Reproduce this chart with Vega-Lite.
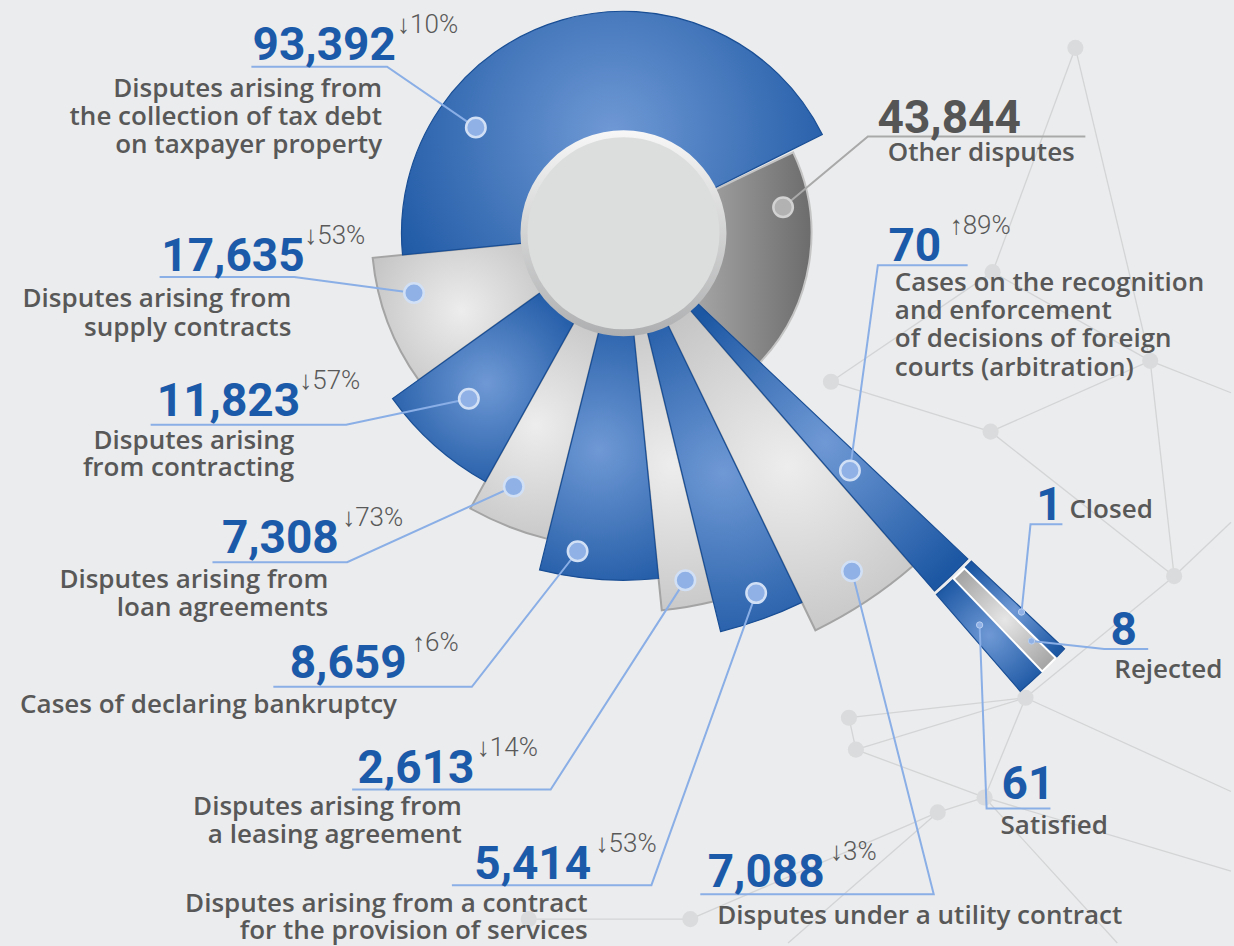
{
 "$schema": "https://vega.github.io/schema/vega-lite/v6.json",
 "width": 1234, "height": 946,
 "autosize": {"type": "fit", "contains": "padding"},
 "padding": 0,
 "background": "#ebeced",
 "config": {"view": {"stroke": null}},
 "datasets": {
  "segs": [
   {"id": "tax", "kind": "blue", "a0": 264.4, "a1": 423.6, "r0": 90, "r1": 222},
   {"id": "other", "kind": "dark", "a0": 64.5, "a1": 133.6, "r0": 90, "r1": 188},
   {"id": "supply", "kind": "light", "a0": 234.4, "a1": 264.4, "r0": 90, "r1": 252},
   {"id": "contracting", "kind": "blue", "a0": 209.1, "a1": 234.4, "r0": 90, "r1": 284},
   {"id": "loan", "kind": "light", "a0": 194, "a1": 209.1, "r0": 90, "r1": 315},
   {"id": "bankruptcy", "kind": "blue", "a0": 174.2, "a1": 194, "r0": 90, "r1": 347},
   {"id": "leasing", "kind": "light", "a0": 166.3, "a1": 174.2, "r0": 90, "r1": 379},
   {"id": "services", "kind": "blue", "a0": 154.2, "a1": 166.3, "r0": 90, "r1": 410},
   {"id": "utility", "kind": "light", "a0": 139, "a1": 154.2, "r0": 90, "r1": 441},
   {"id": "foreign", "kind": "blue", "a0": 133.4, "a1": 139, "r0": 90, "r1": 474},
   {"id": "satisfied", "kind": "blue", "a0": 136.3, "a1": 139.1, "r0": 478, "r1": 606},
   {"id": "rejected", "kind": "ring", "a0": 134.5, "a1": 136.3, "r0": 478, "r1": 606},
   {"id": "closed", "kind": "blue", "a0": 133.3, "a1": 134.5, "r0": 478, "r1": 606},
   {"id": "hubrim", "kind": "rim", "a0": 0, "a1": 360, "r0": 0, "r1": 103},
   {"id": "hub", "kind": "hub", "a0": 0, "a1": 360, "r0": 0, "r1": 96}
  ],
  "net": [
   {"e": 1, "o": 0, "x": 453, "y": 186}, {"e": 1, "o": 1, "x": 370, "y": -39},
   {"e": 2, "o": 0, "x": 453, "y": 186}, {"e": 2, "o": 1, "x": 528, "y": -128},
   {"e": 3, "o": 0, "x": 370, "y": -39}, {"e": 3, "o": 1, "x": 208, "y": -149},
   {"e": 4, "o": 0, "x": 370, "y": -39}, {"e": 4, "o": 1, "x": 528, "y": -128},
   {"e": 5, "o": 0, "x": 528, "y": -128}, {"e": 5, "o": 1, "x": 609, "y": -160},
   {"e": 6, "o": 0, "x": 528, "y": -128}, {"e": 6, "o": 1, "x": 552, "y": -344},
   {"e": 7, "o": 0, "x": 208, "y": -149}, {"e": 7, "o": 1, "x": 368, "y": -199},
   {"e": 8, "o": 0, "x": 368, "y": -199}, {"e": 8, "o": 1, "x": 528, "y": -128},
   {"e": 9, "o": 0, "x": 368, "y": -199}, {"e": 9, "o": 1, "x": 552, "y": -344},
   {"e": 10, "o": 0, "x": 552, "y": -344}, {"e": 10, "o": 1, "x": 609, "y": -290},
   {"e": 11, "o": 0, "x": 552, "y": -344}, {"e": 11, "o": 1, "x": 403, "y": -466},
   {"e": 12, "o": 0, "x": 403, "y": -466}, {"e": 12, "o": 1, "x": 226, "y": -486},
   {"e": 13, "o": 0, "x": 403, "y": -466}, {"e": 13, "o": 1, "x": 233, "y": -518},
   {"e": 14, "o": 0, "x": 403, "y": -466}, {"e": 14, "o": 1, "x": 609, "y": -560},
   {"e": 15, "o": 0, "x": 226, "y": -486}, {"e": 15, "o": 1, "x": 233, "y": -518},
   {"e": 16, "o": 0, "x": 233, "y": -518}, {"e": 16, "o": 1, "x": 362, "y": -566},
   {"e": 17, "o": 0, "x": 315, "y": -581}, {"e": 17, "o": 1, "x": 362, "y": -566},
   {"e": 18, "o": 0, "x": 315, "y": -581}, {"e": 18, "o": 1, "x": 67, "y": -688},
   {"e": 19, "o": 0, "x": 362, "y": -566}, {"e": 19, "o": 1, "x": 609, "y": -640},
   {"e": 20, "o": 0, "x": 362, "y": -566}, {"e": 20, "o": 1, "x": 403, "y": -466},
   {"e": 21, "o": 0, "x": 67, "y": -688}, {"e": 21, "o": 1, "x": -95, "y": -688},
   {"e": 22, "o": 0, "x": 362, "y": -566}, {"e": 22, "o": 1, "x": 495, "y": -712},
   {"e": 23, "o": 0, "x": 315, "y": -581}, {"e": 23, "o": 1, "x": 165, "y": -712}
  ],
  "nodes": [
   {"x": 453, "y": 186}, {"x": 370, "y": -39}, {"x": 528, "y": -128}, {"x": 208, "y": -149},
   {"x": 368, "y": -199}, {"x": 552, "y": -344}, {"x": 403, "y": -466}, {"x": 226, "y": -486},
   {"x": 233, "y": -518}, {"x": 315, "y": -581}, {"x": 362, "y": -566}, {"x": 67, "y": -688},
   {"x": -95, "y": -688}
  ],
  "leaders": [
   {"id": "tax", "kind": "blue", "o": 0, "x": -373, "y": 167}, {"id": "tax", "kind": "blue", "o": 1, "x": -237, "y": 167}, {"id": "tax", "kind": "blue", "o": 2, "x": -148, "y": 106},
   {"id": "supply", "kind": "blue", "o": 0, "x": -465, "y": -44}, {"id": "supply", "kind": "blue", "o": 1, "x": -330, "y": -44}, {"id": "supply", "kind": "blue", "o": 2, "x": -210, "y": -60},
   {"id": "contracting", "kind": "blue", "o": 0, "x": -474, "y": -192}, {"id": "contracting", "kind": "blue", "o": 1, "x": -278, "y": -192}, {"id": "contracting", "kind": "blue", "o": 2, "x": -155, "y": -166},
   {"id": "loan", "kind": "blue", "o": 0, "x": -412, "y": -330}, {"id": "loan", "kind": "blue", "o": 1, "x": -277, "y": -330}, {"id": "loan", "kind": "blue", "o": 2, "x": -110, "y": -254},
   {"id": "bankruptcy", "kind": "blue", "o": 0, "x": -351, "y": -455}, {"id": "bankruptcy", "kind": "blue", "o": 1, "x": -152, "y": -455}, {"id": "bankruptcy", "kind": "blue", "o": 2, "x": -46, "y": -319},
   {"id": "leasing", "kind": "blue", "o": 0, "x": -272, "y": -558}, {"id": "leasing", "kind": "blue", "o": 1, "x": -73, "y": -558}, {"id": "leasing", "kind": "blue", "o": 2, "x": 62, "y": -348},
   {"id": "services", "kind": "blue", "o": 0, "x": -172, "y": -654}, {"id": "services", "kind": "blue", "o": 1, "x": 28, "y": -654}, {"id": "services", "kind": "blue", "o": 2, "x": 133, "y": -361},
   {"id": "utility", "kind": "blue", "o": 0, "x": 77, "y": -663}, {"id": "utility", "kind": "blue", "o": 1, "x": 311, "y": -663}, {"id": "utility", "kind": "blue", "o": 2, "x": 229, "y": -339},
   {"id": "foreign", "kind": "blue", "o": 0, "x": 345, "y": -32}, {"id": "foreign", "kind": "blue", "o": 1, "x": 255, "y": -32}, {"id": "foreign", "kind": "blue", "o": 2, "x": 227, "y": -238},
   {"id": "other", "kind": "gray", "o": 0, "x": 463, "y": 97}, {"id": "other", "kind": "gray", "o": 1, "x": 245, "y": 97}, {"id": "other", "kind": "gray", "o": 2, "x": 160, "y": 26},
   {"id": "closed", "kind": "blue", "o": 0, "x": 440, "y": -292}, {"id": "closed", "kind": "blue", "o": 1, "x": 408, "y": -292}, {"id": "closed", "kind": "blue", "o": 2, "x": 399, "y": -380},
   {"id": "rejected", "kind": "blue", "o": 0, "x": 526, "y": -417}, {"id": "rejected", "kind": "blue", "o": 1, "x": 482, "y": -417}, {"id": "rejected", "kind": "blue", "o": 2, "x": 409, "y": -409},
   {"id": "satisfied", "kind": "blue", "o": 0, "x": 428, "y": -577}, {"id": "satisfied", "kind": "blue", "o": 1, "x": 364, "y": -577}, {"id": "satisfied", "kind": "blue", "o": 2, "x": 357, "y": -393}
  ],
  "dots": [
   {"id": "tax", "kind": "big", "x": -148, "y": 106},
   {"id": "supply", "kind": "big", "x": -210, "y": -60},
   {"id": "contracting", "kind": "big", "x": -155, "y": -166},
   {"id": "loan", "kind": "big", "x": -110, "y": -254},
   {"id": "bankruptcy", "kind": "big", "x": -46, "y": -319},
   {"id": "leasing", "kind": "big", "x": 62, "y": -348},
   {"id": "services", "kind": "big", "x": 133, "y": -361},
   {"id": "utility", "kind": "big", "x": 229, "y": -339},
   {"id": "foreign", "kind": "big", "x": 227, "y": -238},
   {"id": "other", "kind": "gray", "x": 160, "y": 26},
   {"id": "closed", "kind": "small", "x": 399, "y": -380},
   {"id": "rejected", "kind": "small", "x": 409, "y": -409},
   {"id": "satisfied", "kind": "small", "x": 357, "y": -393}
  ],
  "nums": [
   {"t": "93,392", "col": "blue", "x": -300, "y": 174},
   {"t": "17,635", "col": "blue", "x": -391.5, "y": -38},
   {"t": "11,823", "col": "blue", "x": -396, "y": -183},
   {"t": "7,308", "col": "blue", "x": -344, "y": -321},
   {"t": "8,659", "col": "blue", "x": -276, "y": -446},
   {"t": "2,613", "col": "blue", "x": -208, "y": -551},
   {"t": "5,414", "col": "blue", "x": -91, "y": -648},
   {"t": "7,088", "col": "blue", "x": 143, "y": -656},
   {"t": "43,844", "col": "gray", "x": 326.5, "y": 101},
   {"t": "70", "col": "blue", "x": 292, "y": -28},
   {"t": "1", "col": "blue", "x": 427, "y": -288},
   {"t": "8", "col": "blue", "x": 501.5, "y": -413},
   {"t": "61", "col": "blue", "x": 405.5, "y": -568}
  ],
  "pcts": [
   {"t": "↓10%", "x": -227, "y": 201},
   {"t": "↓53%", "x": -320, "y": -11},
   {"t": "↓57%", "x": -325, "y": -156},
   {"t": "↓73%", "x": -282, "y": -294},
   {"t": "↑6%", "x": -212, "y": -419},
   {"t": "↓14%", "x": -147, "y": -524},
   {"t": "↓53%", "x": -28, "y": -621},
   {"t": "↓3%", "x": 207, "y": -629},
   {"t": "↑89%", "x": 327, "y": -1}
  ],
  "descs": [
   {"t": "Disputes arising from", "al": "r", "x": -242, "y": 137},
   {"t": "the collection of tax debt", "al": "r", "x": -242, "y": 109},
   {"t": "on taxpayer property", "al": "r", "x": -242, "y": 81},
   {"t": "Disputes arising from", "al": "r", "x": -333, "y": -74},
   {"t": "supply contracts", "al": "r", "x": -333, "y": -103},
   {"t": "Disputes arising", "al": "r", "x": -330, "y": -216},
   {"t": "from contracting", "al": "r", "x": -330, "y": -244},
   {"t": "Disputes arising from", "al": "r", "x": -296, "y": -356},
   {"t": "loan agreements", "al": "r", "x": -296, "y": -384},
   {"t": "Cases of declaring bankruptcy", "al": "r", "x": -227, "y": -481},
   {"t": "Disputes arising from", "al": "r", "x": -162, "y": -584},
   {"t": "a leasing agreement", "al": "r", "x": -162, "y": -612},
   {"t": "Disputes arising from a contract", "al": "r", "x": -36, "y": -681},
   {"t": "for the provision of services", "al": "r", "x": -36, "y": -708},
   {"t": "Disputes under a utility contract", "al": "l", "x": 94, "y": -693},
   {"t": "Other disputes", "al": "l", "x": 265, "y": 72},
   {"t": "Cases on the recognition", "al": "l", "x": 272, "y": -58},
   {"t": "and enforcement", "al": "l", "x": 272, "y": -86},
   {"t": "of decisions of foreign", "al": "l", "x": 272, "y": -114},
   {"t": "courts (arbitration)", "al": "l", "x": 272, "y": -143},
   {"t": "Closed", "al": "l", "x": 447, "y": -286},
   {"t": "Rejected", "al": "l", "x": 492, "y": -446},
   {"t": "Satisfied", "al": "l", "x": 378, "y": -603}
  ]
 },
 "layer": [
  {
   "data": {"name": "net"},
   "mark": {"type": "line", "stroke": "#d3d4d5", "strokeWidth": 1.3},
   "encoding": {
    "x": {"field": "x", "type": "quantitative", "scale": {"domain": [-625, 609], "nice": false, "zero": false}, "axis": null},
    "y": {"field": "y", "type": "quantitative", "scale": {"domain": [-712, 234], "nice": false, "zero": false}, "axis": null},
    "detail": {"field": "e"},
    "order": {"field": "o"}
   }
  },
  {
   "data": {"name": "nodes"},
   "mark": {"type": "point", "shape": "circle", "filled": true, "fill": "#dadbdc", "opacity": 1, "size": 260},
   "encoding": {
    "x": {"field": "x", "type": "quantitative", "scale": {"domain": [-625, 609], "nice": false, "zero": false}, "axis": null},
    "y": {"field": "y", "type": "quantitative", "scale": {"domain": [-712, 234], "nice": false, "zero": false}, "axis": null}
   }
  },
  {
   "data": {"name": "segs"},
   "transform": [{"filter": "datum.kind === 'dark'"}],
   "mark": {"type": "arc", "stroke": "#c4c4c4", "strokeWidth": 2,
     "fill": {"gradient": "linear", "x1": 0, "y1": 0, "x2": 1, "y2": 0, "stops": [{"offset": 0, "color": "#a9a9a9"}, {"offset": 1, "color": "#6c6c6c"}]}},
   "encoding": {
    "x": {"datum": 0, "type": "quantitative", "scale": {"domain": [-625, 609], "nice": false, "zero": false}, "axis": null},
    "y": {"datum": 0, "type": "quantitative", "scale": {"domain": [-712, 234], "nice": false, "zero": false}, "axis": null},
    "theta": {"field": "a0", "type": "quantitative", "stack": null, "scale": {"type": "linear", "domain": [0, 360], "range": [0, 6.283185307]}},
    "theta2": {"field": "a1"},
    "radius": {"field": "r1", "type": "quantitative", "scale": {"type": "linear", "domain": [0, 700], "range": [0, 700], "zero": true}},
    "radius2": {"field": "r0"}
   }
  },
  {
   "data": {"name": "segs"},
   "transform": [{"filter": "datum.kind === 'light'"}],
   "mark": {"type": "arc", "stroke": "#a4a4a4", "strokeWidth": 2,
     "fill": {"gradient": "radial", "x1": 0.5, "y1": 0.5, "r1": 0, "x2": 0.5, "y2": 0.5, "r2": 0.6, "stops": [{"offset": 0, "color": "#ededed"}, {"offset": 1, "color": "#c2c2c2"}]}},
   "encoding": {
    "x": {"datum": 0, "type": "quantitative", "scale": {"domain": [-625, 609], "nice": false, "zero": false}, "axis": null},
    "y": {"datum": 0, "type": "quantitative", "scale": {"domain": [-712, 234], "nice": false, "zero": false}, "axis": null},
    "theta": {"field": "a0", "type": "quantitative", "stack": null, "scale": {"type": "linear", "domain": [0, 360], "range": [0, 6.283185307]}},
    "theta2": {"field": "a1"},
    "radius": {"field": "r1", "type": "quantitative", "scale": {"type": "linear", "domain": [0, 700], "range": [0, 700], "zero": true}},
    "radius2": {"field": "r0"}
   }
  },
  {
   "data": {"name": "segs"},
   "transform": [{"filter": "datum.kind === 'blue'"}],
   "mark": {"type": "arc", "stroke": "#194e95", "strokeWidth": 1.2,
     "fill": {"gradient": "radial", "x1": 0.5, "y1": 0.5, "r1": 0, "x2": 0.5, "y2": 0.5, "r2": 0.6, "stops": [{"offset": 0, "color": "#6f99d5"}, {"offset": 1, "color": "#1c57a3"}]}},
   "encoding": {
    "x": {"datum": 0, "type": "quantitative", "scale": {"domain": [-625, 609], "nice": false, "zero": false}, "axis": null},
    "y": {"datum": 0, "type": "quantitative", "scale": {"domain": [-712, 234], "nice": false, "zero": false}, "axis": null},
    "theta": {"field": "a0", "type": "quantitative", "stack": null, "scale": {"type": "linear", "domain": [0, 360], "range": [0, 6.283185307]}},
    "theta2": {"field": "a1"},
    "radius": {"field": "r1", "type": "quantitative", "scale": {"type": "linear", "domain": [0, 700], "range": [0, 700], "zero": true}},
    "radius2": {"field": "r0"}
   }
  },
  {
   "data": {"name": "segs"},
   "transform": [{"filter": "datum.kind === 'ring'"}],
   "mark": {"type": "arc", "stroke": "#ffffff", "strokeWidth": 2,
     "fill": {"gradient": "radial", "x1": 0.5, "y1": 0.5, "r1": 0, "x2": 0.5, "y2": 0.5, "r2": 0.6, "stops": [{"offset": 0, "color": "#e6e6e6"}, {"offset": 1, "color": "#a5a5a5"}]}},
   "encoding": {
    "x": {"datum": 0, "type": "quantitative", "scale": {"domain": [-625, 609], "nice": false, "zero": false}, "axis": null},
    "y": {"datum": 0, "type": "quantitative", "scale": {"domain": [-712, 234], "nice": false, "zero": false}, "axis": null},
    "theta": {"field": "a0", "type": "quantitative", "stack": null, "scale": {"type": "linear", "domain": [0, 360], "range": [0, 6.283185307]}},
    "theta2": {"field": "a1"},
    "radius": {"field": "r1", "type": "quantitative", "scale": {"type": "linear", "domain": [0, 700], "range": [0, 700], "zero": true}},
    "radius2": {"field": "r0"}
   }
  },
  {
   "data": {"name": "segs"},
   "transform": [{"filter": "datum.kind === 'rim'"}],
   "mark": {"type": "arc",
     "fill": {"gradient": "linear", "x1": 0, "y1": 0, "x2": 0, "y2": 1, "stops": [{"offset": 0, "color": "#f7f7f7"}, {"offset": 1, "color": "#aeafb0"}]}},
   "encoding": {
    "x": {"datum": 0, "type": "quantitative", "scale": {"domain": [-625, 609], "nice": false, "zero": false}, "axis": null},
    "y": {"datum": 0, "type": "quantitative", "scale": {"domain": [-712, 234], "nice": false, "zero": false}, "axis": null},
    "theta": {"field": "a0", "type": "quantitative", "stack": null, "scale": {"type": "linear", "domain": [0, 360], "range": [0, 6.283185307]}},
    "theta2": {"field": "a1"},
    "radius": {"field": "r1", "type": "quantitative", "scale": {"type": "linear", "domain": [0, 700], "range": [0, 700], "zero": true}},
    "radius2": {"field": "r0"}
   }
  },
  {
   "data": {"name": "segs"},
   "transform": [{"filter": "datum.kind === 'hub'"}],
   "mark": {"type": "arc", "fill": "#dcdddd"},
   "encoding": {
    "x": {"datum": 0, "type": "quantitative", "scale": {"domain": [-625, 609], "nice": false, "zero": false}, "axis": null},
    "y": {"datum": 0, "type": "quantitative", "scale": {"domain": [-712, 234], "nice": false, "zero": false}, "axis": null},
    "theta": {"field": "a0", "type": "quantitative", "stack": null, "scale": {"type": "linear", "domain": [0, 360], "range": [0, 6.283185307]}},
    "theta2": {"field": "a1"},
    "radius": {"field": "r1", "type": "quantitative", "scale": {"type": "linear", "domain": [0, 700], "range": [0, 700], "zero": true}},
    "radius2": {"field": "r0"}
   }
  },
  {
   "data": {"name": "leaders"},
   "transform": [{"filter": "datum.kind === 'blue'"}],
   "mark": {"type": "line", "stroke": "#8aaee6", "strokeWidth": 2},
   "encoding": {
    "x": {"field": "x", "type": "quantitative", "scale": {"domain": [-625, 609], "nice": false, "zero": false}, "axis": null},
    "y": {"field": "y", "type": "quantitative", "scale": {"domain": [-712, 234], "nice": false, "zero": false}, "axis": null},
    "detail": {"field": "id"},
    "order": {"field": "o"}
   }
  },
  {
   "data": {"name": "leaders"},
   "transform": [{"filter": "datum.kind === 'gray'"}],
   "mark": {"type": "line", "stroke": "#a9a9a9", "strokeWidth": 2},
   "encoding": {
    "x": {"field": "x", "type": "quantitative", "scale": {"domain": [-625, 609], "nice": false, "zero": false}, "axis": null},
    "y": {"field": "y", "type": "quantitative", "scale": {"domain": [-712, 234], "nice": false, "zero": false}, "axis": null},
    "detail": {"field": "id"},
    "order": {"field": "o"}
   }
  },
  {
   "data": {"name": "dots"},
   "transform": [{"filter": "datum.kind === 'big'"}],
   "mark": {"type": "point", "shape": "circle", "filled": true, "fill": "#8fb1e6", "stroke": "#d2e0f6", "strokeWidth": 2.5, "opacity": 1, "size": 380},
   "encoding": {
    "x": {"field": "x", "type": "quantitative", "scale": {"domain": [-625, 609], "nice": false, "zero": false}, "axis": null},
    "y": {"field": "y", "type": "quantitative", "scale": {"domain": [-712, 234], "nice": false, "zero": false}, "axis": null}
   }
  },
  {
   "data": {"name": "dots"},
   "transform": [{"filter": "datum.kind === 'gray'"}],
   "mark": {"type": "point", "shape": "circle", "filled": true, "fill": "#b2b2b2", "stroke": "#d2d2d2", "strokeWidth": 2.5, "opacity": 1, "size": 380},
   "encoding": {
    "x": {"field": "x", "type": "quantitative", "scale": {"domain": [-625, 609], "nice": false, "zero": false}, "axis": null},
    "y": {"field": "y", "type": "quantitative", "scale": {"domain": [-712, 234], "nice": false, "zero": false}, "axis": null}
   }
  },
  {
   "data": {"name": "dots"},
   "transform": [{"filter": "datum.kind === 'small'"}],
   "mark": {"type": "point", "shape": "circle", "filled": true, "fill": "#8fb1e6", "stroke": "#b9cff0", "strokeWidth": 1, "opacity": 1, "size": 40},
   "encoding": {
    "x": {"field": "x", "type": "quantitative", "scale": {"domain": [-625, 609], "nice": false, "zero": false}, "axis": null},
    "y": {"field": "y", "type": "quantitative", "scale": {"domain": [-712, 234], "nice": false, "zero": false}, "axis": null}
   }
  },
  {
   "data": {"name": "nums"},
   "mark": {"type": "text", "align": "center", "baseline": "alphabetic", "font": "Roboto", "fontWeight": "bold", "fontSize": 46},
   "encoding": {
    "x": {"field": "x", "type": "quantitative", "scale": {"domain": [-625, 609], "nice": false, "zero": false}, "axis": null},
    "y": {"field": "y", "type": "quantitative", "scale": {"domain": [-712, 234], "nice": false, "zero": false}, "axis": null},
    "text": {"field": "t"},
    "color": {"field": "col", "type": "nominal", "scale": {"domain": ["blue", "gray"], "range": ["#1b5aa9", "#555555"]}, "legend": null}
   }
  },
  {
   "data": {"name": "pcts"},
   "mark": {"type": "text", "align": "left", "baseline": "alphabetic", "font": "Roboto", "fontWeight": 300, "fontSize": 26, "fill": "#595959"},
   "encoding": {
    "x": {"field": "x", "type": "quantitative", "scale": {"domain": [-625, 609], "nice": false, "zero": false}, "axis": null},
    "y": {"field": "y", "type": "quantitative", "scale": {"domain": [-712, 234], "nice": false, "zero": false}, "axis": null},
    "text": {"field": "t"}
   }
  },
  {
   "data": {"name": "descs"},
   "transform": [{"filter": "datum.al === 'r'"}],
   "mark": {"type": "text", "align": "right", "baseline": "alphabetic", "font": "Open Sans", "fontWeight": 600, "fontSize": 26, "fill": "#585858"},
   "encoding": {
    "x": {"field": "x", "type": "quantitative", "scale": {"domain": [-625, 609], "nice": false, "zero": false}, "axis": null},
    "y": {"field": "y", "type": "quantitative", "scale": {"domain": [-712, 234], "nice": false, "zero": false}, "axis": null},
    "text": {"field": "t"}
   }
  },
  {
   "data": {"name": "descs"},
   "transform": [{"filter": "datum.al === 'l'"}],
   "mark": {"type": "text", "align": "left", "baseline": "alphabetic", "font": "Open Sans", "fontWeight": 600, "fontSize": 26, "fill": "#585858"},
   "encoding": {
    "x": {"field": "x", "type": "quantitative", "scale": {"domain": [-625, 609], "nice": false, "zero": false}, "axis": null},
    "y": {"field": "y", "type": "quantitative", "scale": {"domain": [-712, 234], "nice": false, "zero": false}, "axis": null},
    "text": {"field": "t"}
   }
  }
 ]
}
